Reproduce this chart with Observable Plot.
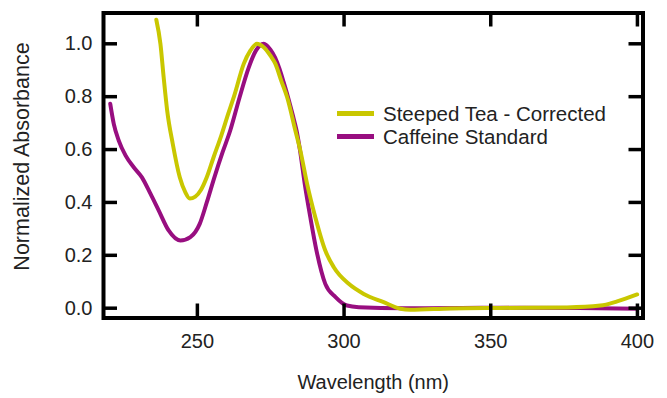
<!DOCTYPE html>
<html>
<head>
<meta charset="utf-8">
<script src="https://cdn.jsdelivr.net/npm/d3@7"></script>
<script src="https://cdn.jsdelivr.net/npm/@observablehq/plot@0.6"></script>
<style>
  html, body { margin: 0; padding: 0; background: #fff; }
  #wrap { position: relative; width: 667px; height: 398px; font-family: "Liberation Sans", Arial, sans-serif; }
  #legend { position: absolute; left: 337px; top: 102px; font-size: 20.5px; color: #222; line-height: 23px; }
  .row { display: flex; align-items: center; height: 23px; }
  .sw { width: 37px; height: 5px; margin-right: 9px; }
</style>
</head>
<body>
<div id="wrap"></div>
<script>
// ---- data ----
const seriesNames = ["Steeped Tea - Corrected", "Caffeine Standard"];
const seriesColors = ["#c9c700", "#980e80"];

const teaWavelength = [236.0, 237.4, 238.5, 239.7, 241.6, 244.0, 245.9, 247.4, 249.3, 251.2, 253.2, 255.5, 258.2, 260.5, 262.6, 265.8, 268.1, 270.3, 272.5, 274.9, 276.6, 278.6, 280.6, 283.4, 285.1, 287.4, 290.2, 293.6, 296.5, 301.6, 306.7, 313.5, 319.2, 322.6, 336.3, 353.3, 376.0, 387.4, 393.1, 399.9];
const teaAbs = [1.091, 1.0, 0.874, 0.748, 0.622, 0.495, 0.438, 0.415, 0.422, 0.447, 0.495, 0.570, 0.655, 0.735, 0.805, 0.924, 0.975, 1.0, 0.988, 0.955, 0.924, 0.86, 0.798, 0.672, 0.596, 0.47, 0.344, 0.218, 0.155, 0.092, 0.054, 0.023, -0.002, -0.006, -0.001, 0.001, 0.003, 0.010, 0.026, 0.052];

const caffWavelength = [220.3, 221.5, 223.2, 225.5, 228.3, 231.1, 234.0, 236.8, 240.2, 244.2, 247.6, 250.8, 253.2, 255.8, 258.6, 261.2, 264.4, 267.5, 270.0, 272.6, 274.9, 276.5, 278.0, 279.4, 280.9, 282.4, 283.8, 285.0, 286.6, 288.5, 290.6, 293.6, 297.1, 301.0, 305.0, 320.0, 340.0, 360.0, 380.0, 400.0];
const caffAbs = [0.773, 0.697, 0.634, 0.578, 0.533, 0.495, 0.433, 0.370, 0.294, 0.256, 0.269, 0.319, 0.400, 0.495, 0.590, 0.672, 0.798, 0.910, 0.975, 1.0, 0.978, 0.948, 0.905, 0.855, 0.798, 0.735, 0.672, 0.596, 0.47, 0.344, 0.218, 0.092, 0.042, 0.010, 0.004, 0.0, 0.001, 0.002, 0.001, -0.002];

const xTicks = [250, 300, 350, 400];
const yTicks = [0.0, 0.2, 0.4, 0.6, 0.8, 1.0];
const xLabel = "Wavelength (nm)";
const yLabel = "Normalized Absorbance";

// ---- build table ----
const rows = [];
teaWavelength.forEach((w, i) => rows.push({series: seriesNames[0], w, a: teaAbs[i]}));
caffWavelength.forEach((w, i) => rows.push({series: seriesNames[1], w, a: caffAbs[i]}));

const W = 667, H = 398;
const mL = 103, mR = 24.5, mT = 12.5, mB = 80.5;
const frameW = W - mL - mR, frameH = H - mT - mB;
const tickLen = 14;

const chart = Plot.plot({
  width: W, height: H,
  marginLeft: mL, marginRight: mR, marginTop: mT, marginBottom: mB,
  style: {fontFamily: "'Liberation Sans', Arial, sans-serif", fontSize: "20px", color: "#222", background: "#fff"},
  x: {domain: [218, 401.9]},
  y: {domain: [-0.0371, 1.1165]},
  color: {domain: seriesNames, range: seriesColors},
  marks: [
    Plot.axisX(xTicks, {tickSize: 0, tickPadding: 16, label: null, tickFormat: d => String(d)}),
    Plot.axisY(yTicks, {tickSize: 0, tickPadding: 11, label: null, tickFormat: d3.format(".1f")}),
    Plot.line(rows.filter(d => d.series === seriesNames[1]), {x: "w", y: "a", stroke: "series", strokeWidth: 4, curve: "monotone-x"}),
    Plot.line(rows.filter(d => d.series === seriesNames[0]), {x: "w", y: "a", stroke: "series", strokeWidth: 4, curve: "monotone-x"}),
    Plot.tickX(xTicks, {x: d => d, insetTop: frameH - tickLen, strokeWidth: 3.5, stroke: "#000"}),
    Plot.tickX(xTicks, {x: d => d, insetBottom: frameH - tickLen, strokeWidth: 3.5, stroke: "#000"}),
    Plot.tickY(yTicks, {y: d => d, insetRight: frameW - tickLen, strokeWidth: 3.5, stroke: "#000"}),
    Plot.tickY(yTicks, {y: d => d, insetLeft: frameW - tickLen, strokeWidth: 3.5, stroke: "#000"}),
    Plot.frame({stroke: "#000", strokeWidth: 4}),
    Plot.text([xLabel], {frameAnchor: "bottom", lineAnchor: "middle", textAnchor: "middle", dy: 65, text: d => d, fill: "#222"}),
    Plot.text([yLabel], {frameAnchor: "left", lineAnchor: "middle", textAnchor: "middle", rotate: -90, dx: -81.5, dy: -9, fontSize: 21.5, text: d => d, fill: "#222"})
  ]
});

const wrap = document.getElementById("wrap");
wrap.appendChild(chart);

const legend = document.createElement("div");
legend.id = "legend";
seriesNames.forEach((name, i) => {
  const row = document.createElement("div");
  row.className = "row";
  const sw = document.createElement("div");
  sw.className = "sw";
  sw.style.background = seriesColors[i];
  const t = document.createElement("span");
  t.textContent = name;
  row.appendChild(sw);
  row.appendChild(t);
  legend.appendChild(row);
});
wrap.appendChild(legend);
</script>
</body>
</html>
